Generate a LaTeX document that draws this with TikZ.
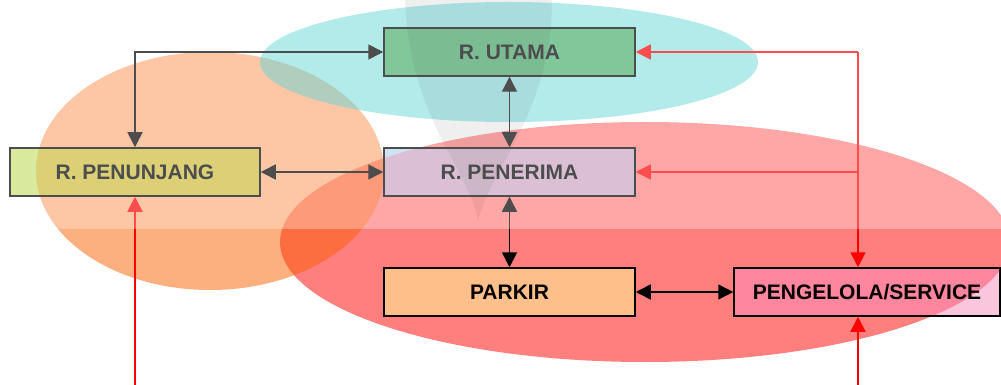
\documentclass[tikz,border=0pt]{standalone}
\usepackage{fontspec}
\setmainfont{Liberation Sans}
\usetikzlibrary{arrows.meta,calc}
\pgfdeclarelayer{bg}
\pgfdeclarelayer{mid}
\pgfdeclarelayer{top}
\pgfsetlayers{bg,mid,main,top}
\definecolor{orangeE}{RGB}{250,95,0}
\definecolor{cyanE}{RGB}{37,195,195}
\definecolor{utamaF}{RGB}{74,176,111}
\definecolor{punA}{RGB}{201,225,118}
\definecolor{punB}{RGB}{204,188,59}
\definecolor{penA}{RGB}{186,215,241}
\definecolor{penB}{RGB}{204,166,196}
\definecolor{parkirF}{RGB}{255,191,138}
\definecolor{pengA}{RGB}{250,198,222}
\definecolor{pengB}{RGB}{255,134,158}
\tikzset{
  box/.style={draw=black, line width=1.5pt, minimum height=48pt, minimum width=251pt,
    inner sep=0pt, font=\fontsize{21}{24}\selectfont\bfseries, text=black},
  link/.style={line width=1.6pt, black, {Triangle[length=15pt,width=15pt]}-{Triangle[length=15pt,width=15pt]}},
  rlink/.style={line width=1.6pt, red, -{Triangle[length=15pt,width=15pt]}},
  rline/.style={line width=1.6pt, red}
}
\begin{document}
\begin{tikzpicture}[x=1pt,y=-1pt]
\useasboundingbox (0,0) rectangle (1001,385);
% nodes
\node[box] (utama) at (509.5,52) {R. UTAMA};
\node[box] (pen) at (509.5,172) {R. PENERIMA};
\node[box, minimum width=250pt] (pun) at (135,172) {R. PENUNJANG};
\node[box] (parkir) at (509.5,292) {PARKIR};
\node[box, minimum width=266pt] (peng) at (867,292) {PENGELOLA/SERVICE};
% background ellipses and fills
\begin{pgfonlayer}{bg}
  \fill[red, opacity=.5] (645,242) ellipse [x radius=365pt, y radius=120pt];
  \fill[orangeE, opacity=.5] (210,171) ellipse [x radius=174pt, y radius=119pt];
  \fill[cyanE, opacity=.5] (509,62) ellipse [x radius=249pt, y radius=60pt];
  \fill[utamaF] (utama.south west) rectangle (utama.north east);
  \fill[punA] (pun.south west) rectangle (pun.north east);
  \begin{scope}
    \clip (210,171) ellipse [x radius=174pt, y radius=119pt];
    \fill[punB] (pun.south west) rectangle (pun.north east);
  \end{scope}
  \fill[penA] (pen.south west) rectangle (pen.north east);
  \begin{scope}
    \clip (645,242) ellipse [x radius=365pt, y radius=120pt];
    \fill[penB] (pen.south west) rectangle (pen.north east);
  \end{scope}
  \fill[parkirF] (parkir.south west) rectangle (parkir.north east);
  \fill[pengA] (peng.south west) rectangle (peng.north east);
  \begin{scope}
    \clip (645,242) ellipse [x radius=365pt, y radius=120pt];
    \fill[pengB] (peng.south west) rectangle (peng.north east);
  \end{scope}
\end{pgfonlayer}
% light cone
\begin{pgfonlayer}{mid}
  \fill[black, opacity=.09] (405,0) .. controls (410,120) and (470,170) .. (478,221)
     .. controls (490,170) and (552,110) .. (552,0) -- cycle;
\end{pgfonlayer}
% connectors
\coordinate (jr) at (858,52);
\coordinate (b1) at (858,385);
\coordinate (b2) at (135,385);
\draw[link] (pun.north) |- (utama.west);
\draw[link] (pun.east) -- (pen.west);
\draw[link] (utama.south) -- (pen.north);
\draw[link] (pen.south) -- (parkir.north);
\draw[link] (parkir.east) -- (peng.west);
\draw[rlink] (jr) -- (utama.east);
\draw[rlink] (jr) -- (jr |- peng.north);
\draw[rlink] (jr |- pen.east) -- (pen.east);
\draw[rlink] (b1) -- (b1 |- peng.south);
\draw[rlink] (b2) -- (pun.south);
% white wash over the upper part
\begin{pgfonlayer}{top}
  \fill[white, opacity=.3] (0,0) rectangle (1001,229);
\end{pgfonlayer}
\end{tikzpicture}
\end{document}
